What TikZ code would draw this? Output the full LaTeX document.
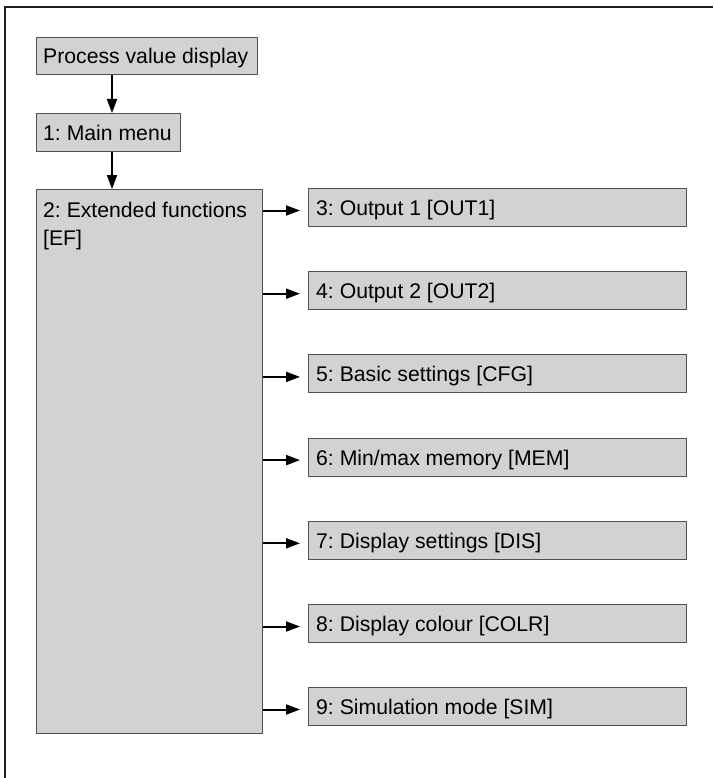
\documentclass[tikz,border=0pt]{standalone}
\usepackage{fontspec}
\setmainfont{Liberation Sans}
\frenchspacing
\usetikzlibrary{arrows.meta}
\definecolor{boxfill}{HTML}{D1D2D4}
\definecolor{boxline}{HTML}{505050}
\definecolor{frameline}{HTML}{231F20}
\begin{document}
\begin{tikzpicture}[x=1pt,y=-1pt,
  font=\fontsize{21.2}{25}\selectfont,
  box/.style={draw=boxline, fill=boxfill, line width=1pt, rectangle,
    anchor=north west, inner sep=0pt},
  rbox/.style={box, minimum width=378pt, minimum height=38pt},
  arr/.style={line width=2pt, -{Triangle[length=14pt,width=10pt]}},
  lbl/.style={anchor=base west, inner sep=0pt}]
\useasboundingbox (0,0) rectangle (713,778);
\draw[frameline, line width=2.2pt] (5,778) -- (5,7) -- (713,7);

\node[box, minimum width=221pt, minimum height=37pt] (pvd) at (36,37) {};
\node[box, minimum width=144pt, minimum height=38pt] (mm) at (36,113) {};
\node[box, minimum width=226pt, minimum height=544pt] (ext) at (36,189) {};

\node[rbox] (b3) at (308,188) {};
\node[rbox] (b4) at (308,271.2) {};
\node[rbox] (b5) at (308,354.4) {};
\node[rbox] (b6) at (308,437.6) {};
\node[rbox] (b7) at (308,520.8) {};
\node[rbox] (b8) at (308,604) {};
\node[rbox] (b9) at (308,687) {};

\node[lbl] (pvdT) at ([xshift=7pt,yshift=-8pt]pvd.west) {Process value display};
\node[lbl] (mmT) at ([xshift=7pt,yshift=-8pt]mm.west) {1: Main menu};
\node[lbl] (extA) at (43,217) {2: Extended functions};
\node[lbl] (extB) at (43,245) {[EF]};
\node[lbl] (b3T) at ([xshift=8pt,yshift=-8pt]b3.west) {3: Output 1 [OUT1]};
\node[lbl] (b4T) at ([xshift=8pt,yshift=-8pt]b4.west) {4: Output 2 [OUT2]};
\node[lbl] (b5T) at ([xshift=8pt,yshift=-8pt]b5.west) {5: Basic settings [CFG]};
\node[lbl] (b6T) at ([xshift=8pt,yshift=-8pt]b6.west) {6: Min/max memory [MEM]};
\node[lbl] (b7T) at ([xshift=8pt,yshift=-8pt]b7.west) {7: Display settings [DIS]};
\node[lbl] (b8T) at ([xshift=8pt,yshift=-8pt]b8.west) {8: Display colour [COLR]};
\node[lbl] (b9T) at ([xshift=8pt,yshift=-8pt]b9.west) {9: Simulation mode [SIM]};

\draw[arr] ([xshift=76pt]pvd.south west) -- ([xshift=76pt]mm.north west);
\draw[arr] ([xshift=76pt]mm.south west) -- ([xshift=76pt]ext.north west);
\foreach \b in {b3,b4,b5,b6,b7,b8,b9}{
  \draw[arr, shorten >=8pt] ([yshift=-3pt]\b.west -| ext.east) -- ([yshift=-3pt]\b.west);
}
\end{tikzpicture}
\end{document}
